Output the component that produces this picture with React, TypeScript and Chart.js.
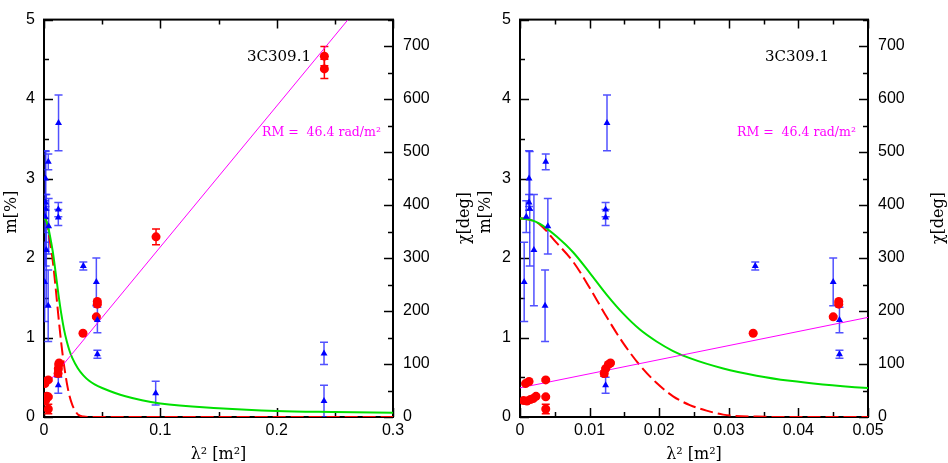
import React, { useEffect, useRef } from 'react';
import { Chart, registerables } from 'chart.js';

Chart.register(...registerables);

// ---- Data: fractional polarization m [%] (blue triangles, left axis)
const mLam2 = [0.0006, 0.0009, 0.0013, 0.0013, 0.0014, 0.0020, 0.0037, 0.0040, 0.0036, 0.0125, 0.0123, 0.0123, 0.0123, 0.0338, 0.0450, 0.0459, 0.0459, 0.0960, 0.2407, 0.2407];
const mVal = [1.70, 2.52, 3.00, 2.70, 2.62, 2.10, 3.21, 2.40, 1.40, 3.70, 2.61, 2.51, 0.40, 1.90, 1.70, 1.22, 0.79, 0.30, 0.80, 0.20];
const mErr = [0.50, 0.20, 0.35, 0.10, 0.72, 0.70, 0.10, 0.35, 0.45, 0.35, 0.09, 0.10, 0.10, 0.05, 0.30, 0.16, 0.05, 0.15, 0.14, 0.20];

// ---- Data: polarization angle chi [deg] (red circles, right axis)
const chiLam2 = [0.0005, 0.0008, 0.0010, 0.0013, 0.0015, 0.0019, 0.0023, 0.0037, 0.0037, 0.0037, 0.0121, 0.0123, 0.0127, 0.0130, 0.0335, 0.0450, 0.0458, 0.0458, 0.0963, 0.2410, 0.2410];
const chiVal = [31, 63, 30, 67, 33, 35, 39, 70, 38, 15, 82, 91, 99, 102, 158, 189, 218, 213, 340, 681, 657];
const chiErr = [3, 2, 2, 2, 2, 2, 2, 2, 2, 9, 5, 2, 2, 2, 2, 2, 2, 2, 15, 18, 18];

// ---- Model curves
const greenLam2 = [0, 0.0015, 0.00287, 0.00527, 0.00766, 0.01005, 0.01244, 0.01483, 0.01723, 0.01962, 0.0220, 0.0244, 0.0292, 0.0340, 0.0388, 0.0435, 0.0500, 0.0700, 0.1000, 0.1500, 0.2000, 0.2500, 0.3000];
const greenM = [2.50, 2.48, 2.43, 2.27, 2.07, 1.81, 1.54, 1.30, 1.10, 0.95, 0.83, 0.74, 0.61, 0.52, 0.455, 0.41, 0.365, 0.26, 0.17, 0.11, 0.075, 0.062, 0.052];
const gaussLam2 = [0, 0.0015, 0.00287, 0.00527, 0.00766, 0.01005, 0.01244, 0.01483, 0.01723, 0.0196, 0.0220, 0.0244, 0.0268, 0.0292, 0.0340, 0.0400, 0.3000];
const gaussM = [2.50, 2.48, 2.42, 2.19, 1.95, 1.62, 1.26, 0.93, 0.65, 0.43, 0.26, 0.15, 0.08, 0.03, 0.005, 0, 0];
const rmLam2 = [0, 0.05, 0.261];
const rmChi = [55, 188, 749];

// ---- Ticks
const mTicks = [0, 1, 2, 3, 4, 5];
const mMinor = [0.5, 1.5, 2.5, 3.5, 4.5];
const chiTicks = [0, 100, 200, 300, 400, 500, 600, 700];
const chiMinor = [50, 150, 250, 350, 450, 550, 650, 750];
const leftXTicks = [0, 0.1, 0.2, 0.3];
const leftXLabels = ['0', '0.1', '0.2', '0.3'];
const leftXMinor = [0.05, 0.15, 0.25];
const rightXTicks = [0, 0.01, 0.02, 0.03, 0.04, 0.05];
const rightXLabels = ['0', '0.01', '0.02', '0.03', '0.04', '0.05'];
const rightXMinor = [0.005, 0.015, 0.025, 0.035, 0.045];

const W = 474;
const H = 463;

type Panel = {
  xMax: number;
  xTicks: number[];
  xLabels: string[];
  xMinor: number[];
  leftW: number;
  rightW: number;
  srcX: number;
  rmX: number;
};

const panels: Panel[] = [
  { xMax: 0.3, xTicks: leftXTicks, xLabels: leftXLabels, xMinor: leftXMinor, leftW: 44, rightW: 81, srcX: 247, rmX: 262 },
  { xMax: 0.05, xTicks: rightXTicks, xLabels: rightXLabels, xMinor: rightXMinor, leftW: 46, rightW: 80, srcX: 291, rmX: 263 },
];

function makeConfig(p: Panel): any {
  const framePlugin = {
    id: 'frameAndErr',
    beforeDatasetsDraw(chart: any) {
      const ctx = chart.ctx;
      const a = chart.chartArea;
      const xs = chart.scales.x;
      const ym = chart.scales.y;
      const yc = chart.scales.y2;

      // frame and inward ticks
      ctx.save();
      ctx.strokeStyle = '#000';
      ctx.lineWidth = 1.5;
      const hTick = (vals: number[], len: number) => {
        for (const v of vals) {
          const px = Math.round(xs.getPixelForValue(v)) + 0.5;
          ctx.beginPath();
          ctx.moveTo(px, a.bottom);
          ctx.lineTo(px, a.bottom - len);
          ctx.moveTo(px, a.top);
          ctx.lineTo(px, a.top + len);
          ctx.stroke();
        }
      };
      hTick(p.xTicks, 9);
      hTick(p.xMinor, 5);
      const lTick = (vals: number[], len: number) => {
        for (const v of vals) {
          const py = Math.round(ym.getPixelForValue(v)) + 0.5;
          ctx.beginPath();
          ctx.moveTo(a.left, py);
          ctx.lineTo(a.left + len, py);
          ctx.stroke();
        }
      };
      lTick(mTicks, 9);
      lTick(mMinor, 5);
      const rTick = (vals: number[], len: number) => {
        for (const v of vals) {
          const py = Math.round(yc.getPixelForValue(v)) + 0.5;
          ctx.beginPath();
          ctx.moveTo(a.right, py);
          ctx.lineTo(a.right - len, py);
          ctx.stroke();
        }
      };
      rTick(chiTicks, 9);
      rTick(chiMinor, 5);
      ctx.lineWidth = 2;
      ctx.strokeRect(a.left, a.top, a.right - a.left, a.bottom - a.top);
      ctx.restore();

      // error bars
      ctx.save();
      ctx.beginPath();
      ctx.rect(a.left, a.top - 2, a.right - a.left, a.bottom - a.top + 2);
      ctx.clip();
      const draw = (xv: number[], yv: number[], ev: number[], ys: any, color: string) => {
        ctx.strokeStyle = color;
        ctx.lineWidth = 1.5;
        for (let i = 0; i < xv.length; i++) {
          const px = xs.getPixelForValue(xv[i]);
          const y1 = ys.getPixelForValue(yv[i] - ev[i]);
          const y2 = ys.getPixelForValue(yv[i] + ev[i]);
          ctx.beginPath();
          ctx.moveTo(px, y1);
          ctx.lineTo(px, y2);
          ctx.moveTo(px - 4, y1);
          ctx.lineTo(px + 4, y1);
          ctx.moveTo(px - 4, y2);
          ctx.lineTo(px + 4, y2);
          ctx.stroke();
        }
      };
      draw(mLam2, mVal, mErr, ym, 'rgba(50,50,255,0.85)');
      draw(chiLam2, chiVal, chiErr, yc, '#ff0000');
      ctx.restore();
    },
    afterDraw(chart: any) {
      const ctx = chart.ctx;
      const a = chart.chartArea;
      ctx.save();
      ctx.fillStyle = '#000';
      ctx.font = '15px "DejaVu Serif"';
      ctx.textAlign = 'left';
      ctx.textBaseline = 'alphabetic';
      ctx.fillText('3C309.1', p.srcX, 61);
      ctx.fillStyle = '#ff00ff';
      ctx.font = '12.5px "DejaVu Serif"';
      ctx.fillText('RM =  46.4 rad/m\u00b2', p.rmX, 136);

      ctx.fillStyle = '#000';
      ctx.font = '16px "DejaVu Serif"';
      ctx.textAlign = 'center';
      ctx.textBaseline = 'middle';
      ctx.fillText('\u03bb\u00b2 [m\u00b2]', (a.left + a.right) / 2, 455);
      const vText = (t: string, x: number, y: number) => {
        ctx.save();
        ctx.translate(x, y);
        ctx.rotate(-Math.PI / 2);
        ctx.fillText(t, 0, 0);
        ctx.restore();
      };
      vText('m[%]', 12, 212);
      vText('\u03c7[deg]', 465, 218);
      ctx.restore();
    },
  };

  const tickFont = { family: '"Liberation Sans", Arial, sans-serif', size: 16 };

  return {
    type: 'scatter',
    data: {
      datasets: [
        {
          data: mLam2.map((x, i) => ({ x, y: mVal[i] })),
          yAxisID: 'y',
          pointStyle: 'triangle',
          pointRadius: 4,
          backgroundColor: '#0000ff',
          borderColor: '#0000ff',
          borderWidth: 0,
        },
        {
          data: chiLam2.map((x, i) => ({ x, y: chiVal[i] })),
          yAxisID: 'y2',
          pointStyle: 'circle',
          pointRadius: 4.5,
          backgroundColor: '#ff0000',
          borderColor: '#ff0000',
          borderWidth: 0,
        },
        {
          data: rmLam2.map((x, i) => ({ x, y: rmChi[i] })),
          yAxisID: 'y2',
          showLine: true,
          pointRadius: 0,
          borderColor: '#ff00ff',
          borderWidth: 1,
        },
        {
          data: greenLam2.map((x, i) => ({ x, y: greenM[i] })),
          yAxisID: 'y',
          showLine: true,
          pointRadius: 0,
          borderColor: '#00e000',
          borderWidth: 2,
          cubicInterpolationMode: 'monotone',
        },
        {
          data: gaussLam2.map((x, i) => ({ x, y: gaussM[i] })),
          yAxisID: 'y',
          showLine: true,
          pointRadius: 0,
          borderColor: '#ff0000',
          borderWidth: 2,
          borderDash: [13, 5],
          cubicInterpolationMode: 'monotone',
        },
      ],
    },
    options: {
      responsive: false,
      animation: false,
      layout: { padding: { top: 6, left: 0, right: 0, bottom: 0 } },
      plugins: { legend: { display: false }, tooltip: { enabled: false } },
      scales: {
        x: {
          type: 'linear',
          position: 'bottom',
          min: 0,
          max: p.xMax,
          afterBuildTicks: (s: any) => {
            s.ticks = p.xTicks.map((v) => ({ value: v }));
          },
          afterFit: (s: any) => {
            s.height = 46;
          },
          ticks: {
            autoSkip: false,
            maxRotation: 0,
            padding: 4,
            color: '#000',
            font: tickFont,
            callback: (_v: any, i: number) => p.xLabels[i],
          },
          grid: { display: false, drawTicks: false },
          border: { display: false },
        },
        y: {
          type: 'linear',
          position: 'left',
          min: 0,
          max: 5,
          afterBuildTicks: (s: any) => {
            s.ticks = mTicks.map((v) => ({ value: v }));
          },
          afterFit: (s: any) => {
            s.width = p.leftW;
          },
          ticks: {
            autoSkip: false,
            padding: 9,
            color: '#000',
            font: tickFont,
            callback: (v: any) => String(v),
          },
          grid: { display: false, drawTicks: false },
          border: { display: false },
        },
        y2: {
          type: 'linear',
          position: 'right',
          min: 0,
          max: 750,
          afterBuildTicks: (s: any) => {
            s.ticks = chiTicks.map((v) => ({ value: v }));
          },
          afterFit: (s: any) => {
            s.width = p.rightW;
          },
          ticks: {
            autoSkip: false,
            padding: 10,
            color: '#000',
            font: tickFont,
            callback: (v: any) => String(v),
          },
          grid: { display: false, drawTicks: false },
          border: { display: false },
        },
      },
    },
    plugins: [framePlugin],
  };
}

function PanelChart({ p, left }: { p: Panel; left: number }) {
  const ref = useRef<HTMLCanvasElement>(null);
  useEffect(() => {
    if (!ref.current) return;
    const chart = new Chart(ref.current, makeConfig(p));
    return () => chart.destroy();
  }, [p]);
  return (
    <canvas
      ref={ref}
      width={W}
      height={H}
      style={{ position: 'absolute', left, top: 0, width: W, height: H }}
    />
  );
}

export default function App() {
  return (
    <div style={{ position: 'fixed', left: 0, top: 0, width: 948, height: 463, background: '#fff' }}>
      <PanelChart p={panels[0]} left={0} />
      <PanelChart p={panels[1]} left={474} />
    </div>
  );
}
